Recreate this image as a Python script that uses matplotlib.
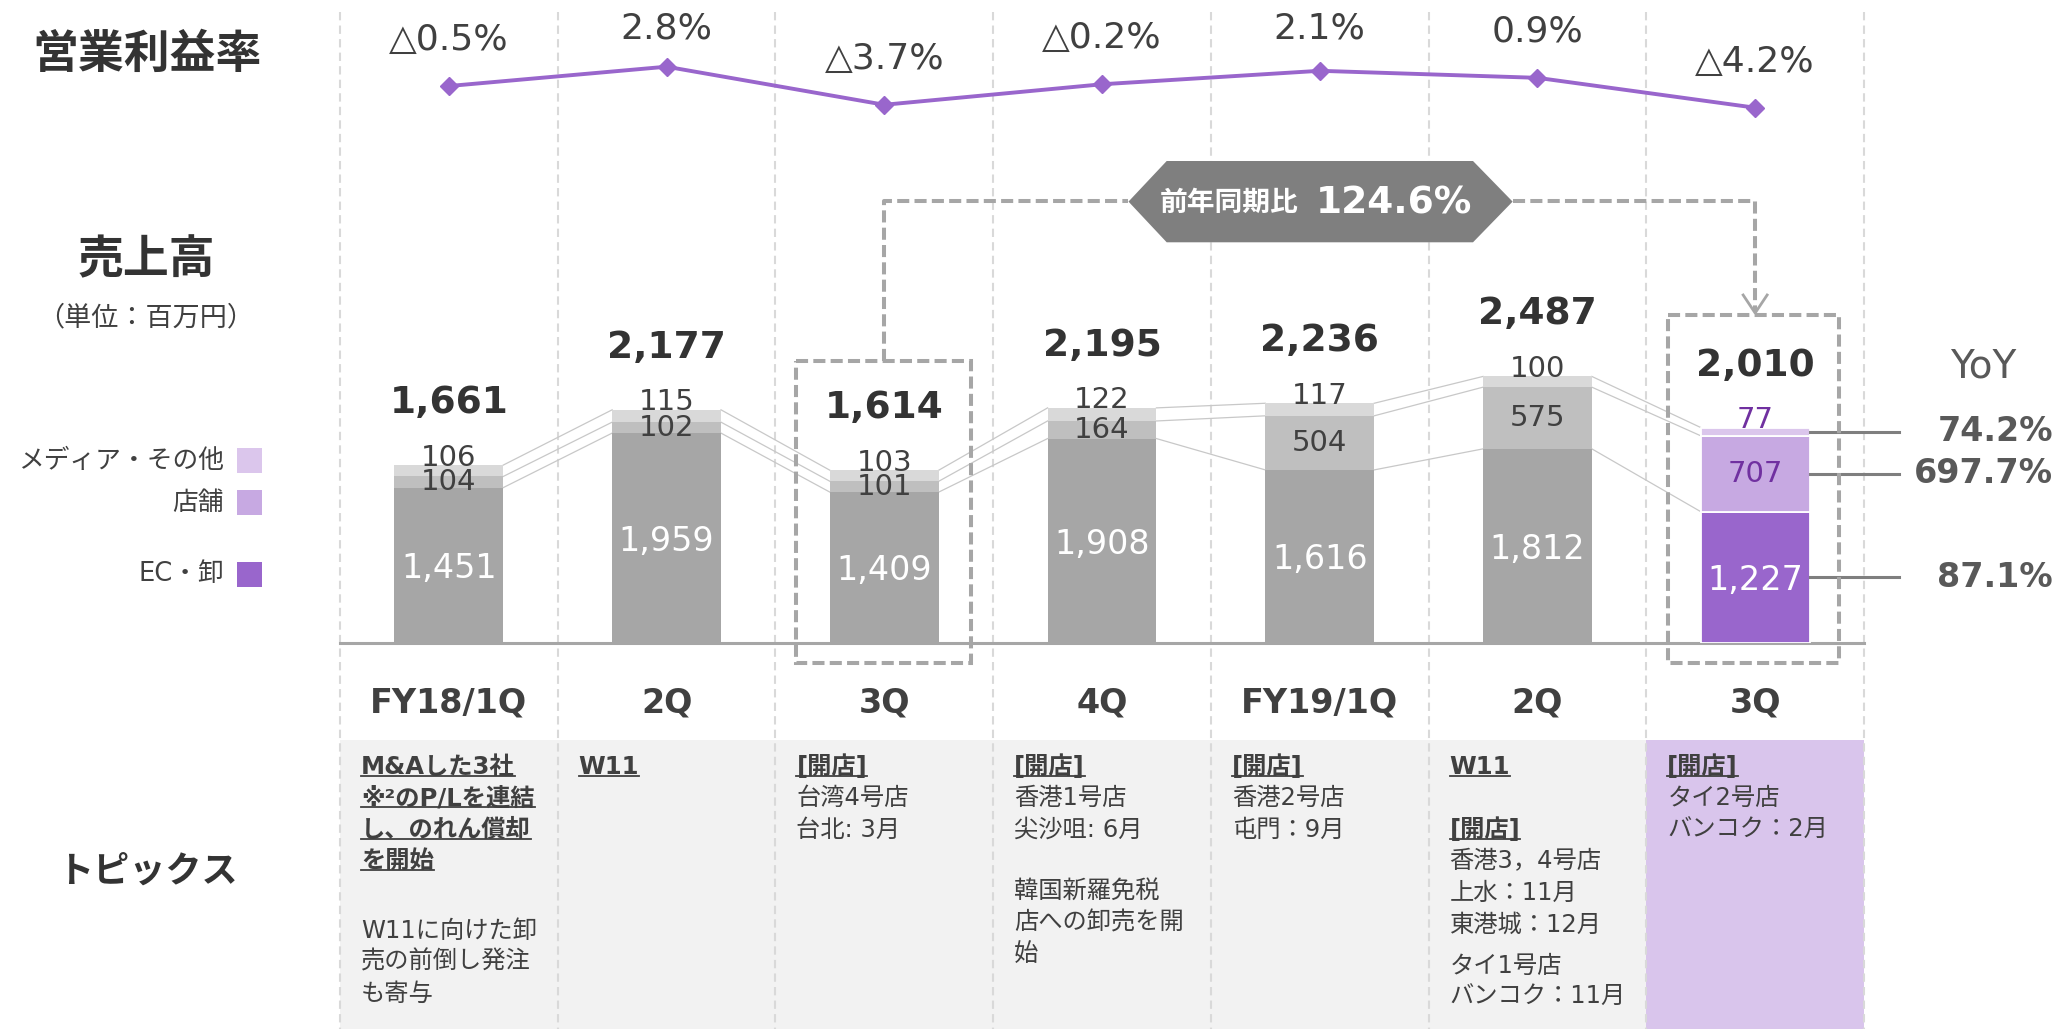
import matplotlib
matplotlib.use('Agg')
import matplotlib.pyplot as plt
from matplotlib.patches import Rectangle, Polygon
import numpy as np

plt.rcParams['font.family'] = ['DejaVu Sans', 'Noto Sans CJK JP']

# ---------------- data ----------------
quarters = ['FY18/1Q', '2Q', '3Q', '4Q', 'FY19/1Q', '2Q', '3Q']
op_margin = [-0.5, 2.8, -3.7, -0.2, 2.1, 0.9, -4.2]
ec_wholesale = [1451, 1959, 1409, 1908, 1616, 1812, 1227]
stores = [104, 102, 101, 164, 504, 575, 707]
media_other = [106, 115, 103, 122, 117, 100, 77]
totals = [1661, 2177, 1614, 2195, 2236, 2487, 2010]
yoy_media, yoy_store, yoy_ec = 74.2, 697.7, 87.1
yoy_total = 124.6
legend_labels = ['メディア・その他', '店舗', 'EC・卸']
highlight = 6  # current quarter

# topics: (text, heading?) ; a float = extra blank space in lines
topics = [
    [('M&Aした3社', True), ('※²のP/Lを連結', True), ('し、のれん償却', True), ('を開始', True), 1.2,
     ('W11に向けた卸', False), ('売の前倒し発注', False), ('も寄与', False)],
    [('W11', True)],
    [('[開店]', True), ('台湾4号店', False), ('台北: 3月', False)],
    [('[開店]', True), ('香港1号店', False), ('尖沙咀: 6月', False), 0.94,
     ('韓国新羅免税', False), ('店への卸売を開', False), ('始', False)],
    [('[開店]', True), ('香港2号店', False), ('屯門：9月', False)],
    [('W11', True), 1.0, ('[開店]', True), ('香港3，4号店', False), ('上水：11月', False),
     ('東港城：12月', False), 0.32, ('タイ1号店', False), ('バンコク：11月', False)],
    [('[開店]', True), ('タイ2号店', False), ('バンコク：2月', False)],
]

# ---------------- geometry / style ----------------
W, H = 2066, 1029
COL0, COLW = 340.0, 1524.0 / 7
BASE = 643.3
PXU = 0.1073        # pixels per unit (million yen)
TXT = '#404040'
GRAY_C = ['#A6A6A6', '#BFBFBF', '#D9D9D9']
PUR_C = ['#9966CC', '#C7A9E2', '#DBC6EC']
PUR_TXT = '#7030A0'

def rect(x0, y0, x1, y1):
    return [x0 / W, 1 - y1 / H, (x1 - x0) / W, (y1 - y0) / H]

def colc(i):
    return COL0 + (i + 0.5) * COLW

fig = plt.figure(figsize=(W / 100, H / 100), dpi=100)

# background overlay (pixel coordinates, y downward)
bg = fig.add_axes([0, 0, 1, 1], zorder=0)
bg.set_xlim(0, W); bg.set_ylim(H, 0); bg.axis('off')

bg.add_patch(Rectangle((COL0, 740), COLW * 6, H - 740, color='#F2F2F2', lw=0))
bg.add_patch(Rectangle((COL0 + COLW * 6, 740), COLW, H - 740, color='#D9C5EC', lw=0))
for k in range(8):
    xk = COL0 + k * COLW
    bg.plot([xk, xk], [12, H], color='#D9D9D9', lw=1.5, ls=(0, (4, 2.5)))

# left titles
bg.text(147, 55, '営業利益率', ha='center', va='center', fontsize=33, fontweight='bold', color='#333333')
bg.text(146, 261, '売上高', ha='center', va='center', fontsize=33, fontweight='bold', color='#333333')
bg.text(146, 318, '（単位：百万円）', ha='center', va='center', fontsize=19.5, color=TXT)
bg.text(147, 872, 'トピックス', ha='center', va='center', fontsize=26, fontweight='bold', color='#333333')

# legend
leg_y = [460.5, 502.5, 574]
leg_cols = [PUR_C[2], PUR_C[1], PUR_C[0]]
for lab, yy, c in zip(legend_labels, leg_y, leg_cols):
    bg.add_patch(Rectangle((237, yy - 12.5), 25, 25, color=c, lw=0))
    bg.text(224, yy, lab, ha='right', va='center', fontsize=18.5, color=TXT)

# topics
heading_texts = []
for i, col in enumerate(topics):
    x0 = COL0 + i * COLW + 21
    cur = 0.0
    for item in col:
        if isinstance(item, float):
            cur += item
            continue
        txt, head = item
        yy = 766.7 + cur * 31.5
        t = bg.text(x0, yy, txt, ha='left', va='center', fontsize=17.5, color=TXT,
                    fontweight='bold' if head else 'normal')
        if head:
            heading_texts.append(t)
        cur += 1

# ---------------- operating margin line ----------------
s = 41.0 / 7
ltop = 2.8 + 66.7 / s
axl = fig.add_axes(rect(COL0, 0, COL0 + 7 * COLW, 140), zorder=3)
axl.set_xlim(-0.5, 6.5)
axl.set_ylim(-4.2 - (140 - 107.7) / s, ltop)
axl.axis('off')
xs = np.arange(len(quarters))
axl.plot(xs, op_margin, color='#9966CC', lw=2.8, marker='D', ms=9.5, clip_on=False)
for xi, v in zip(xs, op_margin):
    lab = f'△{abs(v):.1f}%' if v < 0 else f'{v:.1f}%'
    pt_px = (ltop - v) * s                 # point position in pixels from top
    off_px = min(46.0, pt_px - 28.0)       # keep labels inside the top margin
    axl.annotate(lab, (xi, v), xytext=(0, off_px * 0.72), textcoords='offset points',
                 ha='center', va='center', fontsize=26, color=TXT, annotation_clip=False)

# ---------------- stacked bars ----------------
axb = fig.add_axes(rect(COL0, 140, COL0 + 7 * COLW, BASE), zorder=2)
axb.set_xlim(-0.5, 6.5)
axb.set_ylim(0, (BASE - 140) / PXU)
axb.patch.set_alpha(0)
for sp in ['top', 'right', 'left']:
    axb.spines[sp].set_visible(False)
axb.spines['bottom'].set_color('#A6A6A6')
axb.spines['bottom'].set_linewidth(2.2)
axb.set_xticks([]); axb.set_yticks([])

ec = np.array(ec_wholesale); st = np.array(stores); md = np.array(media_other)
lvl1 = ec; lvl2 = ec + st; lvl3 = ec + st + md
for j, (vals, bot) in enumerate([(ec, 0 * ec), (st, lvl1), (md, lvl2)]):
    cols = [PUR_C[j] if i == highlight else GRAY_C[j] for i in xs]
    ecs = ['white' if i == highlight else 'none' for i in xs]
    lws = [1.3 if i == highlight else 0 for i in xs]
    axb.bar(xs, vals, bottom=bot, width=0.5, color=cols, edgecolor=ecs, linewidth=lws, zorder=3)

# connecting lines between bars
for lv in (lvl1, lvl2, lvl3):
    for i in range(len(xs) - 1):
        axb.plot([xs[i] + 0.25, xs[i + 1] - 0.25], [lv[i], lv[i + 1]], color='#C8C8C8', lw=0.9, zorder=2)

# segment labels
for i in xs:
    hl = i == highlight
    axb.text(i, ec[i] / 2 - 30, f'{ec[i]:,}', ha='center', va='center', fontsize=24, color='white', zorder=5)
    axb.text(i, lvl1[i] + st[i] / 2, f'{st[i]:,}', ha='center', va='center', fontsize=21,
             color=PUR_TXT if hl else TXT, zorder=5)
    axb.text(i, lvl3[i] + 70, f'{md[i]:,}', ha='center', va='center', fontsize=21,
             color=PUR_TXT if hl else TXT, zorder=5)
    axb.text(i, lvl3[i] + 578, f'{totals[i]:,}', ha='center', va='center', fontsize=27,
             fontweight='bold', color='#333333', zorder=5)
    axb.text(i, -(703 - BASE) / PXU, quarters[i], ha='center', va='center', fontsize=24,
             fontweight='bold', color=TXT, clip_on=False)

# YoY annotations for the highlighted quarter
def xd(px):
    return (px - COL0) / COLW - 0.5
h = highlight
for yv, val in [(lvl2[h] + md[h] / 2, yoy_media), (lvl1[h] + st[h] / 2, yoy_store), (ec[h] / 2, yoy_ec)]:
    axb.plot([h + 0.25, xd(1899)], [yv, yv], color='#7F7F7F', lw=2.2, clip_on=False, zorder=4)
    axb.text(xd(2053), yv, f'{val:.1f}%', ha='right', va='center', fontsize=24,
             fontweight='bold', color='#595959', clip_on=False)
axb.text(xd(1983), (BASE - 366) / PXU, 'YoY', ha='center', va='center', fontsize=28,
         color='#595959', clip_on=False)

# ---------------- foreground overlay ----------------
fg = fig.add_axes([0, 0, 1, 1], zorder=5)
fg.set_xlim(0, W); fg.set_ylim(H, 0); fg.axis('off'); fg.patch.set_alpha(0)
DC = '#A6A6A6'
dash = (0, (3, 1.3))
c2, c6 = colc(2), colc(6)
fg.add_patch(Rectangle((c2 - 88, 361), 175, 663 - 361, fill=False, ec=DC, lw=2.9, ls=dash))
fg.add_patch(Rectangle((c6 - 87, 315), 171, 663 - 315, fill=False, ec=DC, lw=2.9, ls=dash))
fg.plot([c2, c2, 1128], [361, 201, 201], color=DC, lw=2.9, ls=dash)
fg.plot([1513, c6, c6], [201, 201, 312], color=DC, lw=2.9, ls=dash)
fg.plot([c6 - 12, c6, c6 + 12], [295, 313, 295], color=DC, lw=2.0)
hexpts = [(1128.5, 201.6), (1166.7, 161), (1473, 161), (1512.6, 201.6), (1473, 242.3), (1166.7, 242.3)]
fg.add_patch(Polygon(hexpts, closed=True, color='#7F7F7F', lw=0))
fg.text(1229, 203, '前年同期比', ha='center', va='center', fontsize=20, fontweight='bold', color='white')
fg.text(1394, 203, f'{yoy_total:.1f}%', ha='center', va='center', fontsize=27, fontweight='bold', color='white')

# underline topic headings
fig.canvas.draw()
for t in heading_texts:
    bb = t.get_window_extent()
    yy = H - bb.y0 - 3
    fg.plot([bb.x0, bb.x1], [yy, yy], color=TXT, lw=1.3)

fig.savefig('out.png', dpi=100)
